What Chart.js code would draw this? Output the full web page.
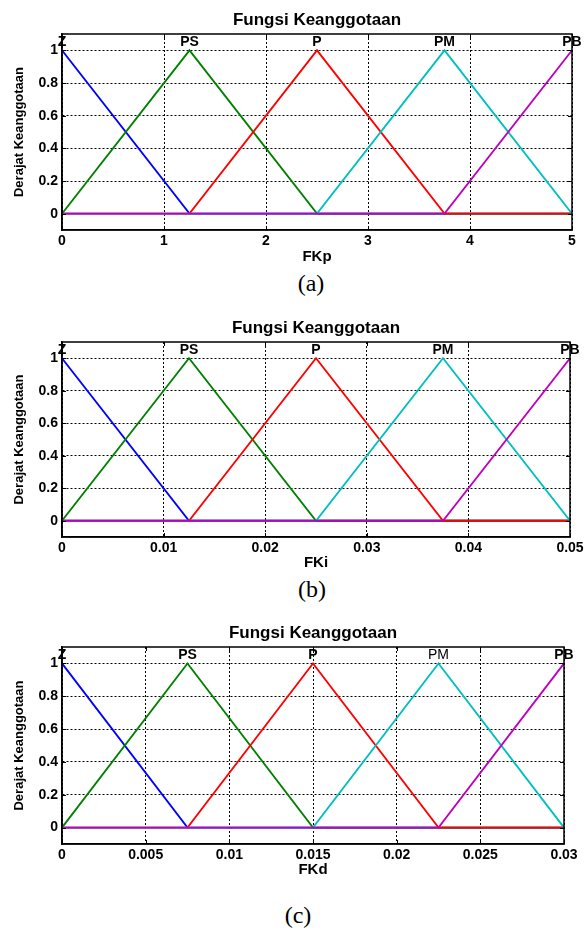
<!DOCTYPE html>
<html>
<head>
<meta charset="utf-8">
<script src="https://cdn.jsdelivr.net/npm/chart.js@4.4.1/dist/chart.umd.min.js"></script>
<style>
  body { margin: 0; background: #fff; width: 587px; height: 929px; position: relative; overflow: hidden; }
  canvas { position: absolute; left: 0; }
  .cap { position: absolute; font-family: 'Liberation Serif', 'Times New Roman', serif; font-size: 24px; color: #000; transform: translate(-50%, -50%); white-space: nowrap; }
</style>
</head>
<body>
<canvas id="chartKp" width="587" height="266" style="top:0px"></canvas>
<canvas id="chartKi" width="587" height="264" style="top:308px"></canvas>
<canvas id="chartKd" width="587" height="266" style="top:613px"></canvas>
<div class="cap" style="left:311px;top:283px">(a)</div>
<div class="cap" style="left:312px;top:589px">(b)</div>
<div class="cap" style="left:298px;top:915px">(c)</div>
<script>
var mfNames = ['Z', 'PS', 'P', 'PM', 'PB'];
var mfColors = ['rgb(0,0,255)', 'rgb(0,128,0)', 'rgb(255,0,0)', 'rgb(0,191,191)', 'rgb(191,0,191)'];

// membership degree of each set at the 5 breakpoints
var zVals  = [1, 0, 0, 0, 0];
var psVals = [0, 1, 0, 0, 0];
var pVals  = [0, 0, 1, 0, 0];
var pmVals = [0, 0, 0, 1, 0];
var pbVals = [0, 0, 0, 0, 1];

// breakpoints (peaks) on each universe
var kpPoints = [0, 1.25, 2.5, 3.75, 5];
var kiPoints = [0, 0.0125, 0.025, 0.0375, 0.05];
var kdPoints = [0, 0.0075, 0.015, 0.0225, 0.03];

var kpTicks = [0, 1, 2, 3, 4, 5];
var kpTickLabels = ['0', '1', '2', '3', '4', '5'];
var kiTicks = [0, 0.01, 0.02, 0.03, 0.04, 0.05];
var kiTickLabels = ['0', '0.01', '0.02', '0.03', '0.04', '0.05'];
var kdTicks = [0, 0.005, 0.01, 0.015, 0.02, 0.025, 0.03];
var kdTickLabels = ['0', '0.005', '0.01', '0.015', '0.02', '0.025', '0.03'];
var yTicks = [0, 0.2, 0.4, 0.6, 0.8, 1];
var yTickLabels = ['0', '0.2', '0.4', '0.6', '0.8', '1'];

var FONT = '"Liberation Sans", Arial, sans-serif';

var framePlugin = {
	id: 'frame',
	afterDraw: function(chart, args, opts) {
		var ctx = chart.ctx;
		var a = chart.chartArea;
		var xs = chart.scales.x, ys = chart.scales.y;
		ctx.save();
		ctx.fillStyle = '#000';
		ctx.strokeStyle = '#000';
		ctx.textAlign = 'center';
		ctx.textBaseline = 'middle';
		ctx.font = 'bold 17px ' + FONT;
		ctx.fillText('Fungsi Keanggotaan', (a.left + a.right) / 2, 20);

		// little inward ticks like matlab
		ctx.lineWidth = 1;
		ctx.beginPath();
		xs.ticks.forEach(function(t) {
			var px = Math.round(xs.getPixelForValue(t.value)) + 0.5;
			ctx.moveTo(px, a.top); ctx.lineTo(px, a.top + 4);
			ctx.moveTo(px, a.bottom); ctx.lineTo(px, a.bottom - 4);
		});
		ys.ticks.forEach(function(t) {
			var py = Math.round(ys.getPixelForValue(t.value)) + 0.5;
			ctx.moveTo(a.left, py); ctx.lineTo(a.left + 4, py);
			ctx.moveTo(a.right, py); ctx.lineTo(a.right - 4, py);
		});
		ctx.stroke();

		ctx.lineWidth = 1.5;
		ctx.strokeRect(a.left, a.top, a.right - a.left, a.bottom - a.top);

		for (var i = 0; i < mfNames.length; i++) {
			ctx.font = (opts.plain[i] ? '' : 'bold ') + '14px ' + FONT;
			ctx.fillText(mfNames[i], xs.getPixelForValue(opts.points[i]), a.top + 8);
		}
		ctx.restore();
	}
};

function makeChart(id, points, ticks, tickLabels, xLabel, rightPad, xHeight, plain) {
	var series = [zVals, psVals, pVals, pmVals, pbVals];
	var datasets = [];
	for (var i = 0; i < series.length; i++) {
		var pts = [];
		for (var k = 0; k < points.length; k++) {
			pts.push({x: points[k], y: series[i][k]});
		}
		datasets.push({
			label: mfNames[i],
			data: pts,
			borderColor: mfColors[i],
			backgroundColor: mfColors[i],
			borderWidth: 1.8,
			pointRadius: 0,
			tension: 0,
			fill: false,
			order: series.length - 1 - i
		});
	}

	return new Chart(document.getElementById(id), {
		type: 'line',
		data: {datasets: datasets},
		options: {
			responsive: false,
			animation: false,
			layout: {padding: {top: 34, left: 0, right: rightPad, bottom: 0}},
			plugins: {
				legend: {display: false},
				tooltip: {enabled: false},
				frame: {points: points, plain: plain}
			},
			scales: {
				x: {
					type: 'linear',
					min: ticks[0],
					max: ticks[ticks.length - 1],
					afterBuildTicks: function(s) { s.ticks = ticks.map(function(v) { return {value: v}; }); },
					afterFit: function(s) { s.height = xHeight; },
					grid: {color: '#000', lineWidth: 1, drawTicks: false},
					border: {display: true, color: '#000', width: 1.5, dash: [2, 2]},
					ticks: {
						autoSkip: false, maxRotation: 0, padding: 3, color: '#000',
						font: {family: FONT, size: 14, weight: 'bold'},
						callback: function(v, i) { return tickLabels[i]; }
					},
					title: {display: true, text: xLabel, color: '#000', padding: {top: 0, bottom: 0},
						font: {family: FONT, size: 15, weight: 'bold'}}
				},
				y: {
					min: -0.1,
					max: 1.1,
					afterBuildTicks: function(s) { s.ticks = yTicks.map(function(v) { return {value: v}; }); },
					afterFit: function(s) { s.width = 62; },
					grid: {color: '#000', lineWidth: 1, drawTicks: false},
					border: {display: true, color: '#000', width: 1.5, dash: [2, 2]},
					ticks: {
						padding: 4, color: '#000',
						font: {family: FONT, size: 14, weight: 'bold'},
						callback: function(v, i) { return yTickLabels[i]; }
					},
					title: {display: true, text: 'Derajat Keanggotaan', color: '#000', padding: {top: 12, bottom: 0},
						font: {family: FONT, size: 13, weight: 'bold'}}
				}
			}
		},
		plugins: [framePlugin]
	});
}

makeChart('chartKp', kpPoints, kpTicks, kpTickLabels, 'FKp', 15, 36, [false, false, false, false, false]);
makeChart('chartKi', kiPoints, kiTicks, kiTickLabels, 'FKi', 17, 35, [false, false, false, false, false]);
makeChart('chartKd', kdPoints, kdTicks, kdTickLabels, 'FKd', 23, 35, [false, false, false, true, false]);
</script>
</body>
</html>
